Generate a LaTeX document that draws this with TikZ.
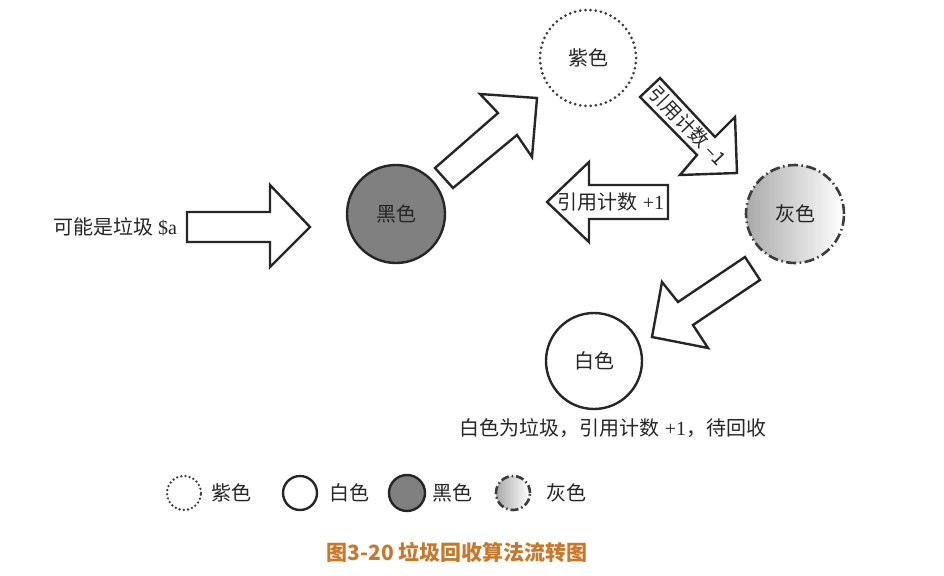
\documentclass[tikz,border=0pt]{standalone}
\usepackage{fontspec}
\setmainfont{Liberation Serif}
\newfontfamily\cjk{Noto Sans CJK SC}
\usetikzlibrary{shadings}
\definecolor{inkline}{RGB}{38,38,38}
\definecolor{blackfill}{RGB}{128,128,128}
\definecolor{grayedge}{RGB}{60,60,60}
\definecolor{captioncol}{RGB}{200,120,40}
\definecolor{fadegray}{RGB}{170,170,170}
% gray state fill: darker on the left, fading to white on the right
\pgfdeclarehorizontalshading{grayfade}{100bp}{color(0bp)=(fadegray); color(25bp)=(fadegray); color(75bp)=(white); color(100bp)=(white)}
\tikzset{
  x=1pt, y=-1pt,
  blockarrow/.style={draw=inkline, line width=2.4pt, line join=miter, fill=white},
  label/.style={text=black!85, font=\fontsize{20}{20}\selectfont, inner sep=0pt},
  purplestate/.style={circle, draw=grayedge, line width=3pt, line cap=round,
    dash pattern=on 0pt off 5.2pt, fill=white, inner sep=0pt},
  whitestate/.style={circle, draw=inkline, line width=2.4pt, fill=white, inner sep=0pt},
  blackstate/.style={circle, draw=inkline, line width=2.4pt, fill=blackfill, inner sep=0pt},
  graystate/.style={circle, draw=grayedge, line width=2.6pt,
    dash pattern=on 10pt off 3.5pt on 1.5pt off 3.5pt,
    shading=grayfade, shading angle=0, inner sep=0pt},
}
\begin{document}
\begin{tikzpicture}
\useasboundingbox (0,0) rectangle (944,575);

% state circles
\node[purplestate, minimum size=96pt] (purple) at (588,58) {};
\node[label] at (purple.center) {\cjk 紫色};
\node[blackstate, minimum size=98pt] (black) at (396,214) {};
\node[label] at (black.center) {\cjk 黑色};
\node[graystate, minimum size=98pt] (gray) at (795,214) {};
\node[label] at (gray.center) {\cjk 灰色};
\node[whitestate, minimum size=96pt] (white) at (594,361) {};
\node[label] at (white.center) {\cjk 白色};

% entry arrow
\node[label, anchor=west] (entry) at (53,227) {{\cjk 可能是垃圾} \$a};
\draw[blockarrow] (187,212) -- (270,212) -- (270,185) -- (310,227)
  -- (270,267) -- (270,242) -- (187,242) -- cycle;

% black -> purple
\draw[blockarrow] (435,168) -- (498,113) -- (480,94) -- (537,98)
  -- (532,157) -- (517,135) -- (453,188) -- cycle;

% purple -> gray, reference count minus one
\draw[blockarrow] (640,97) -- (660,78) -- (715,137) -- (735,117)
  -- (737,173) -- (680,175) -- (697,155) -- cycle;
\node[label, font=\cjk\fontsize{19}{19}\selectfont, rotate=-46] (minusone) at (688,126) {引用计数 –1};

% gray -> black, reference count plus one
\draw[blockarrow] (547,202) -- (589,162) -- (589,185) -- (668,185)
  -- (668,219) -- (589,219) -- (589,242) -- cycle;
\node[label] (plusone) at (611,202) {{\cjk 引用计数} +1};

% gray -> white
\draw[blockarrow] (745,257) -- (760,280) -- (693,325) -- (708,348)
  -- (652,337) -- (662,282) -- (678,302) -- cycle;

\node[label] (note) at (613,428) {{\cjk 白色为垃圾，引用计数} +1{\cjk ，待回收}};

% legend
\node[purplestate, minimum size=34pt, line width=2.6pt, dash pattern=on 0pt off 4.2pt] (lp) at (184,493) {};
\node[label, anchor=west] at (211,493) {\cjk 紫色};
\node[whitestate, minimum size=34pt] (lw) at (300,493) {};
\node[label, anchor=west] at (329,493) {\cjk 白色};
\node[blackstate, minimum size=36pt] (lb) at (407,493) {};
\node[label, anchor=west] at (432,493) {\cjk 黑色};
\node[graystate, minimum size=34pt, dash pattern=on 8pt off 3pt on 1.5pt off 3pt] (lg) at (513,493) {};
\node[label, anchor=west] at (546,493) {\cjk 灰色};

% caption
\node[text=captioncol, font=\cjk\bfseries\fontsize{21}{21}\selectfont, inner sep=0pt] (caption) at (457,552) {图3-20 垃圾回收算法流转图};
\end{tikzpicture}
\end{document}
